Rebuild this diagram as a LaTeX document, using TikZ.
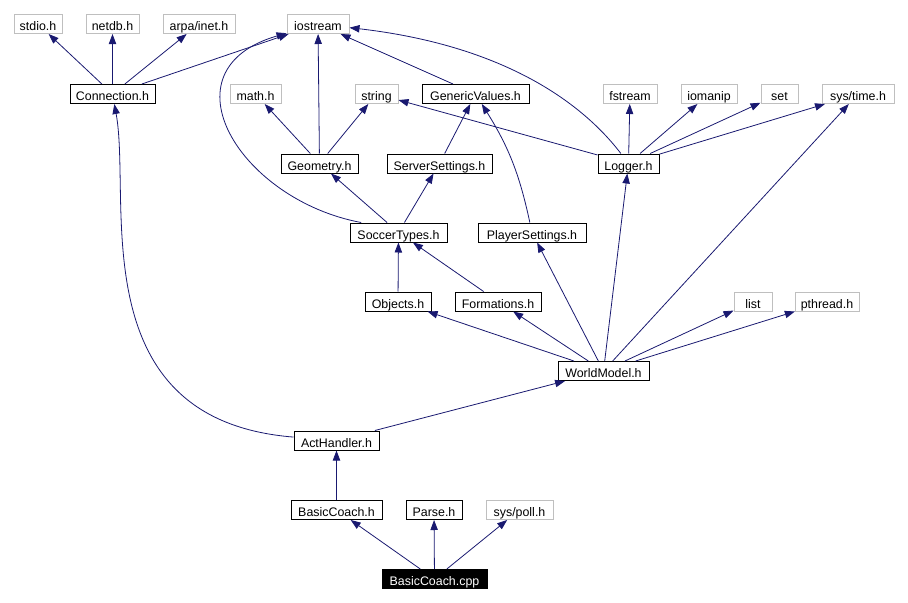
\documentclass[tikz,border=0pt]{standalone}
\usepackage{fontspec}
\setmainfont{Liberation Sans}
\usetikzlibrary{arrows.meta}
\definecolor{edgeblue}{RGB}{25,25,112}
\definecolor{extgray}{RGB}{191,191,191}

\begin{document}
\begin{tikzpicture}[x=0.75pt,y=0.75pt,
  file/.style={draw=black, line width=0.75pt, minimum height=14.25pt, inner sep=0pt, text height=10pt, text depth=0pt, font=\fontsize{9.3}{10}\selectfont},
  extfile/.style={file, draw=extgray},
  rootfile/.style={file, fill=black, text=white},
  boxw/.style={minimum width=#1*0.75pt},
  dep/.style={draw=edgeblue, line width=0.6pt, -{Triangle[length=7.5pt,width=5.5pt]}}]
\useasboundingbox (0,0) rectangle (908,-603);
\node[extfile, boxw=48] (stdio) at (38,-24) {stdio.h};
\node[extfile, boxw=53] (netdb) at (112.5,-24) {netdb.h};
\node[extfile, boxw=72] (arpa) at (199,-24) {arpa/inet.h};
\node[extfile, boxw=62] (iostream) at (318,-24) {iostream};
\node[file, boxw=85] (conn) at (112.5,-94) {Connection.h};
\node[extfile, boxw=51] (math) at (255.5,-94) {math.h};
\node[extfile, boxw=43] (string) at (376.5,-94) {string};
\node[file, boxw=107] (generic) at (475.5,-94) {GenericValues.h};
\node[extfile, boxw=54] (fstream) at (630,-94) {fstream};
\node[extfile, boxw=56] (iomanip) at (709,-94) {iomanip};
\node[extfile, boxw=37] (set) at (779.5,-94) {set};
\node[extfile, boxw=72] (systime) at (858,-94) {sys/time.h};
\node[file, boxw=77] (geometry) at (319.5,-163.5) {Geometry.h};
\node[file, boxw=105] (server) at (439.5,-163.5) {ServerSettings.h};
\node[file, boxw=61] (logger) at (628.5,-163.5) {Logger.h};
\node[file, boxw=97] (soccer) at (398.5,-232.5) {SoccerTypes.h};
\node[file, boxw=108] (player) at (532,-232.5) {PlayerSettings.h};
\node[file, boxw=66] (objects) at (398,-301.5) {Objects.h};
\node[file, boxw=86] (formations) at (498,-301.5) {Formations.h};
\node[extfile, boxw=38] (list) at (753,-301.5) {list};
\node[extfile, boxw=64] (pthread) at (827,-301.5) {pthread.h};
\node[file, boxw=91] (world) at (603.5,-371) {WorldModel.h};
\node[file, boxw=85] (act) at (336.5,-440.5) {ActHandler.h};
\node[file, boxw=91] (coachh) at (336.5,-510) {BasicCoach.h};
\node[file, boxw=56] (parse) at (434,-510) {Parse.h};
\node[extfile, boxw=67] (syspoll) at (519.5,-510) {sys/poll.h};
\node[rootfile, boxw=105] (coachcpp) at (434.5,-579) {BasicCoach.cpp};
\draw[dep] (conn) -- (stdio);
\draw[dep] (conn) -- (netdb);
\draw[dep] (conn) -- (arpa);
\draw[dep] (conn) -- (iostream);
\draw[dep] (geometry) -- (math);
\draw[dep] (geometry) -- (string);
\draw[dep] (geometry) -- (iostream);
\draw[dep] (generic) -- (iostream);
\draw[dep] (server) -- (generic);
\draw[dep] (player) to[bend right=10] (generic);
\draw[dep] (logger) .. controls (580,-100) and (500,-45) .. (iostream);
\draw[dep] (logger) -- (string);
\draw[dep] (logger) -- (fstream);
\draw[dep] (logger) -- (iomanip);
\draw[dep] (logger) -- (set);
\draw[dep] (logger) -- (systime);
\draw[dep] (soccer.165) .. controls (240,-200) and (160,-70) .. (iostream);
\draw[dep] (soccer) -- (geometry);
\draw[dep] (soccer) -- (server);
\draw[dep] (objects) -- (soccer);
\draw[dep] (formations) -- (soccer);
\draw[dep] (world) -- (objects);
\draw[dep] (world) -- (formations);
\draw[dep] (world) -- (player);
\draw[dep] (world) -- (logger);
\draw[dep] (world) -- (systime);
\draw[dep] (world) -- (list);
\draw[dep] (world) -- (pthread);
\draw[dep] (act) .. controls (80,-420) and (132,-200) .. (conn);
\draw[dep] (act) -- (world);
\draw[dep] (coachh) -- (act);
\draw[dep] (coachcpp) -- (coachh);
\draw[dep] (coachcpp) -- (parse);
\draw[dep] (coachcpp) -- (syspoll);
\end{tikzpicture}
\end{document}
